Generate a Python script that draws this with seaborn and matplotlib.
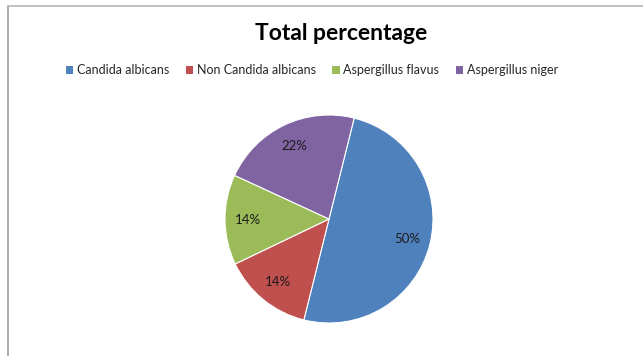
import numpy as np
import matplotlib
matplotlib.use("Agg")
import matplotlib.pyplot as plt
from matplotlib.lines import Line2D
from matplotlib.patches import Patch
import seaborn as sns

sns.set_theme(style="white")
plt.rcParams["font.family"] = ["Lato", "DejaVu Sans"]

# data
labels = ["Candida albicans", "Non Candida albicans", "Aspergillus flavus", "Aspergillus niger"]
values = [50, 14, 14, 22]
colors = ["#4F81BD", "#C0504D", "#9BBB59", "#8064A2"]

W, H = 643, 356
fig = plt.figure(figsize=(W / 100, H / 100), dpi=100)
fig.patch.set_facecolor("white")

# pie axes, centre (329, 219) px, radius 104 px
cx, cy, r = 329, 219, 104
ax = fig.add_axes([(cx - r) / W, (H - cy - r) / H, 2 * r / W, 2 * r / H])
wedges, texts, autotexts = ax.pie(
    values,
    colors=colors,
    startangle=76,
    counterclock=False,
    autopct="%1.0f%%",
    pctdistance=0.78,
    wedgeprops=dict(edgecolor="white", linewidth=0.8),
    textprops=dict(fontsize=9.5, color="#1a1a1a"),
)
ax.set_xlim(-1, 1)
ax.set_ylim(-1, 1)
ax.set_aspect("equal")

# title
fig.text(341 / W, 1 - 33 / H, "Total percentage", ha="center", va="center",
         fontsize=16.5, fontweight="bold", color="black")

# legend
handles = [Patch(facecolor=c, edgecolor="none") for c in colors]
fig.legend(handles, labels, loc="center", bbox_to_anchor=(312 / W, 1 - 70 / H),
           ncol=4, frameon=False, fontsize=9, handlelength=0.6, handleheight=0.6,
           handletextpad=0.3, columnspacing=1.3)

# chart-area border (left and top visible)
fig.add_artist(Line2D([7.5 / W, 7.5 / W], [0, 1 - 5.5 / H], color="#a0a0a0", lw=1.2))
fig.add_artist(Line2D([7.5 / W, 1], [1 - 5.5 / H, 1 - 5.5 / H], color="#b8b8b8", lw=1.2))

fig.savefig("out.png", dpi=100, facecolor="white")
